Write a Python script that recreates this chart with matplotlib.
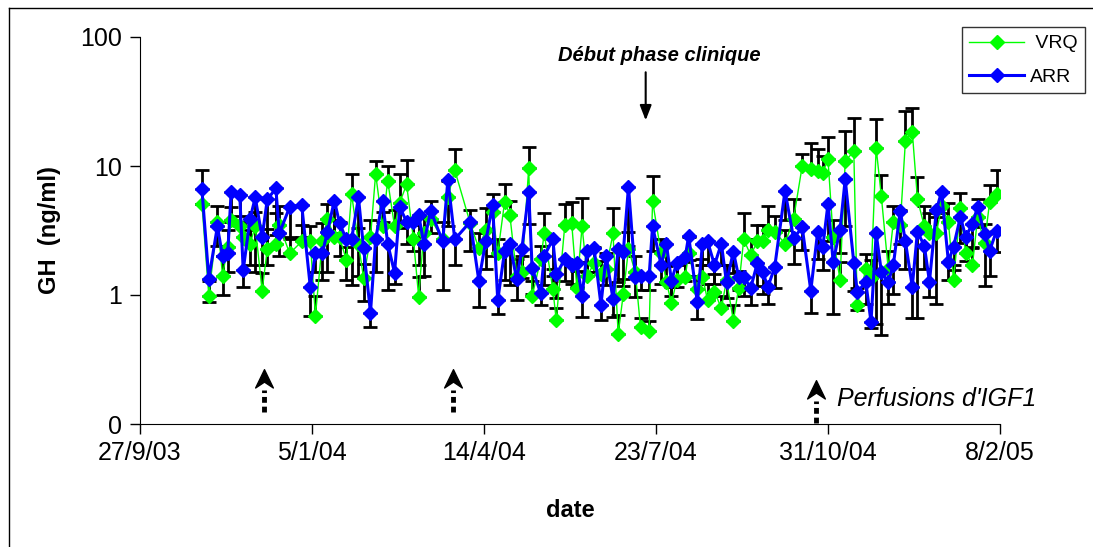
import numpy as np
import pandas as pd
import matplotlib
matplotlib.use("Agg")
import matplotlib.pyplot as plt
from matplotlib.path import Path
from matplotlib.lines import Line2D

plt.rcParams["font.family"] = ["Liberation Sans", "DejaVu Sans"]

# ── DATA ─────────────────────────────────────────────────────────
start = pd.Timestamp("2003-09-27")

# sampling days, counted from 27/9/03
days = [36, 40, 45, 48, 51, 53, 58, 60, 64, 67, 71, 74, 79, 81, 87, 94, 99, 102, 106, 109,
        113, 116, 120, 123, 127, 130, 134, 137, 141, 144, 148, 151, 155, 159, 162, 165, 169, 176, 179, 183,
        192, 197, 201, 205, 208, 212, 215, 219, 222, 226, 228, 233, 235, 240, 242, 247, 251, 254, 257, 260,
        264, 268, 271, 275, 278, 281, 284, 288, 291, 296, 298, 303, 306, 309, 312, 317, 319, 324, 327, 330,
        334, 338, 341, 345, 348, 351, 355, 359, 362, 365, 369, 375, 380, 385, 390, 394, 397, 400, 403, 407,
        410, 415, 417, 422, 425, 428, 431, 435, 438, 442, 445, 449, 452, 456, 459, 463, 466, 470, 473, 477,
        480, 484, 487, 491, 494, 498]

vrq = [5.1, 0.99, 3.7, 1.41, 2.37, 3.8, 3.4, 2.8, 2.5, 3.4, 1.08, 2.26, 2.5, 3.5, 2.1, 2.6, 2.6, 0.69, 2.6, 3.9,
       2.8, 2.8, 1.87, 6.1, 2.5, 1.35, 2.8, 8.7, 3.4, 7.7, 3.4, 5.2, 7.2, 2.7, 0.97, 3.0, 3.9, 2.7, 5.7, 9.3,
       3.6, 2.3, 3.2, 4.4, 2.1, 5.3, 4.2, 1.41, 1.52, 9.7, 0.98, 1.9, 3.0, 1.11, 0.64, 3.5, 3.6, 1.13, 3.4, 1.41,
       1.76, 1.45, 1.6, 3.0, 0.50, 1.02, 2.26, 1.5, 0.56, 0.53, 5.35, 2.1, 1.27, 0.86, 1.3, 1.39, 2.1, 1.11, 1.39, 0.91,
       1.06, 0.79, 1.3, 0.63, 1.13, 2.7, 2.04, 2.6, 2.6, 3.2, 3.1, 2.5, 3.9, 10.0, 9.4, 9.2, 8.9, 11.3, 2.8, 1.31,
       10.9, 13.0, 0.84, 1.58, 1.36, 13.8, 5.85, 1.6, 3.7, 3.5, 15.6, 18.5, 5.55, 3.4, 3.0, 3.0, 4.9, 3.7, 1.31, 4.7,
       2.13, 1.71, 4.0, 2.52, 5.3, 6.1]

arr = [6.6, 1.34, 3.4, 2.0, 2.1, 6.3, 6.0, 1.56, 3.9, 5.7, 2.8, 5.5, 6.7, 3.0, 4.8, 5.0, 1.16, 2.1, 2.1, 3.1,
       5.4, 3.6, 2.7, 2.7, 5.7, 2.3, 0.73, 2.7, 5.4, 2.5, 1.49, 4.8, 3.7, 3.7, 4.2, 2.5, 4.5, 2.6, 7.8, 2.7,
       3.7, 1.29, 2.6, 5.0, 0.91, 2.2, 2.5, 1.32, 2.26, 6.3, 1.61, 1.03, 2.0, 2.7, 1.45, 1.89, 1.72, 1.76, 0.98, 2.2,
       2.3, 0.84, 2.0, 0.93, 2.26, 2.17, 6.9, 1.37, 1.40, 1.40, 3.4, 1.71, 2.5, 1.29, 1.76, 1.98, 2.87, 0.88, 2.5, 2.6,
       1.71, 2.5, 1.25, 2.17, 1.39, 1.39, 1.13, 1.78, 1.52, 1.15, 1.64, 6.4, 2.75, 3.35, 1.08, 3.1, 2.37, 5.1, 1.81, 3.2,
       7.9, 1.78, 1.06, 1.25, 0.62, 3.0, 1.52, 1.25, 1.71, 4.5, 2.6, 1.16, 3.1, 2.4, 1.27, 4.55, 6.3, 1.81, 2.37, 4.05,
       2.83, 3.55, 4.84, 2.97, 2.21, 3.15]

# VRQ: upper error bars only, ARR: lower error bars only
vrq_err = [4.2, 0.3, 1.2, 0.6, 0.8, 1.0, 0.7, 0.9, 0.7, 1.0, 0.4, 1.0, 1.8, 1.4, 0.6, 0.9, 0.8, 0.3, 1.0, 1.2,
           1.0, 0.9, 0.5, 2.5, 0.8, 0.4, 1.0, 2.3, 1.0, 2.3, 1.2, 3.5, 4.0, 0.8, 0.4, 1.0, 1.5, 1.0, 2.0, 4.2,
           1.0, 0.7, 1.5, 1.7, 0.6, 2.0, 1.2, 0.5, 0.5, 4.4, 0.3, 0.5, 1.3, 0.3, 0.15, 1.6, 1.7, 0.4, 2.2, 0.4,
           0.6, 0.4, 0.5, 1.7, 0.2, 0.3, 0.8, 0.5, 0.1, 0.1, 3.0, 0.6, 0.4, 0.3, 0.4, 0.4, 0.7, 0.3, 0.5, 0.3,
           0.4, 0.2, 0.4, 0.2, 0.4, 1.6, 0.7, 0.9, 0.9, 1.7, 1.0, 0.7, 1.6, 2.4, 5.7, 4.3, 3.0, 5.5, 1.0, 0.5,
           7.8, 10.6, 0.3, 0.5, 0.5, 9.3, 2.6, 0.6, 1.2, 1.1, 11.1, 9.5, 2.7, 1.5, 1.3, 1.0, 1.4, 1.5, 0.4, 1.5,
           0.7, 0.6, 1.5, 1.0, 1.8, 3.2]

arr_err = [1.5, 0.46, 1.0, 1.0, 0.6, 2.6, 2.5, 0.4, 2.2, 4.2, 1.1, 3.8, 3.8, 1.0, 2.0, 2.2, 0.47, 0.6, 0.8, 1.6,
           2.4, 1.6, 1.4, 1.5, 4.3, 1.4, 0.17, 1.2, 1.7, 1.4, 0.27, 1.5, 1.2, 1.5, 2.5, 1.1, 1.5, 1.5, 4.4, 1.0,
           1.5, 0.48, 1.0, 3.0, 0.2, 0.9, 1.3, 0.4, 0.9, 2.75, 0.6, 0.2, 0.8, 1.1, 0.5, 0.6, 0.5, 0.6, 0.3, 0.7,
           0.8, 0.2, 0.8, 0.25, 1.0, 1.0, 4.5, 0.4, 0.3, 0.3, 1.2, 0.5, 0.8, 0.3, 0.6, 0.7, 1.0, 0.23, 0.8, 0.9,
           0.5, 0.8, 0.3, 0.7, 0.3, 0.4, 0.3, 0.6, 0.5, 0.3, 0.5, 2.6, 1.0, 1.1, 0.36, 1.2, 0.8, 2.5, 1.1, 1.1,
           4.5, 0.7, 0.3, 0.4, 0.07, 2.4, 1.03, 0.4, 0.7, 2.0, 1.0, 0.5, 2.44, 0.8, 0.3, 3.7, 2.0, 0.5, 0.8, 1.5,
           1.0, 1.2, 1.5, 1.8, 0.8, 1.0]

igf1_days = [72, 182, 393]          # Perfusions d'IGF1
clinical_day = 294                  # Début phase clinique
tick_labels = ["27/9/03", "5/1/04", "14/4/04", "23/7/04", "31/10/04", "8/2/05"]

dates = start + pd.to_timedelta(days, unit="D")
tick_dates = start + pd.to_timedelta(np.arange(len(tick_labels)) * 100, unit="D")

C_GREEN = "#00FF00"
C_BLUE = "#0000FF"
MS = 7.3

# ── PLOT ─────────────────────────────────────────────────────────
fig = plt.figure(figsize=(10.93, 5.47), dpi=100)
ax = fig.add_axes([140 / 1093, 1 - 424 / 547, 860 / 1093, 387 / 547])

ax.errorbar(dates, vrq, yerr=[np.zeros(len(vrq)), vrq_err], fmt="none",
            ecolor="black", elinewidth=2, capsize=5, capthick=2, zorder=1)
ax.errorbar(dates, arr, yerr=[arr_err, np.zeros(len(arr))], fmt="none",
            ecolor="black", elinewidth=2, capsize=5, capthick=2, zorder=1)
ax.plot(dates, vrq, color=C_GREEN, lw=1, marker="D", ms=MS, mec=C_GREEN,
        label="VRQ", zorder=3)
ax.plot(dates, arr, color=C_BLUE, lw=2.2, marker="D", ms=MS, mec=C_BLUE,
        label="ARR", zorder=4)

ax.set_yscale("log")
ax.set_ylim(0.1, 100)
ax.set_yticks([0.1, 1, 10, 100])
ax.set_yticklabels(["0", "1", "10", "100"])
ax.minorticks_off()
ax.set_xlim(tick_dates[0], tick_dates[-1])
ax.set_xticks(tick_dates)
ax.set_xticklabels(tick_labels)
ax.tick_params(axis="both", labelsize=18, direction="out", length=7, width=1, pad=6)
ax.tick_params(axis="x", pad=5)
for s in ["top", "right"]:
    ax.spines[s].set_visible(False)

ax.set_ylabel("GH  (ng/ml)", fontsize=17, fontweight="bold", labelpad=14)
ax.set_xlabel("date", fontsize=17, fontweight="bold", labelpad=25)

# clinical phase arrow
cd = start + pd.Timedelta(days=clinical_day)
ax.annotate("", xy=(cd, 21.5), xytext=(cd, 56),
            arrowprops=dict(arrowstyle="-|>,head_length=0.9,head_width=0.35",
                            color="black", lw=1.5), annotation_clip=False)
ax.text(start + pd.Timedelta(days=302), 72, "Début phase clinique",
        fontsize=14.5, fontweight="bold", style="italic", ha="center", va="center")

# IGF1 infusion markers (dashed arrows)
chevron = Path([(0, 1), (0.75, -0.55), (0, -0.05), (-0.75, -0.55), (0, 1)],
               [Path.MOVETO, Path.LINETO, Path.LINETO, Path.LINETO, Path.CLOSEPOLY])
tips = [0.23, 0.23, 0.19]
bottoms = [0.124, 0.124, 0.102]
for d, tp, bt in zip(igf1_days, tips, bottoms):
    dd = start + pd.Timedelta(days=d)
    ax.plot([dd, dd], [bt, tp * 0.8], color="black", lw=3.5, ls=(0, (1.2, 0.8)),
            solid_capstyle="butt", clip_on=False, zorder=5)
    ax.plot([dd], [tp * 0.93], marker=chevron, ms=17, color="black", clip_on=False, zorder=5)
ax.text(start + pd.Timedelta(days=405), 0.155, "Perfusions d'IGF1", fontsize=18,
        style="italic", ha="left", va="center")

# legend
handles = [Line2D([], [], color=C_GREEN, lw=1, marker="D", ms=MS, label=" VRQ"),
           Line2D([], [], color=C_BLUE, lw=2.2, marker="D", ms=MS, label="ARR")]
leg = fig.legend(handles=handles, loc="upper right", bbox_to_anchor=(1085 / 1093, 1 - 27 / 547),
                 fontsize=14, frameon=True, fancybox=False, edgecolor="black",
                 handlelength=2.8, borderpad=0.4, labelspacing=0.8, handletextpad=0.3,
                 borderaxespad=0)
leg.get_frame().set_linewidth(1)

# outer border (top & left only, as in the source)
fig.add_artist(Line2D([9 / 1093, 1], [1 - 8 / 547, 1 - 8 / 547], color="black", lw=1,
                      transform=fig.transFigure))
fig.add_artist(Line2D([9 / 1093, 9 / 1093], [0, 1 - 8 / 547], color="black", lw=1,
                      transform=fig.transFigure))

fig.savefig("out.png", dpi=100)
